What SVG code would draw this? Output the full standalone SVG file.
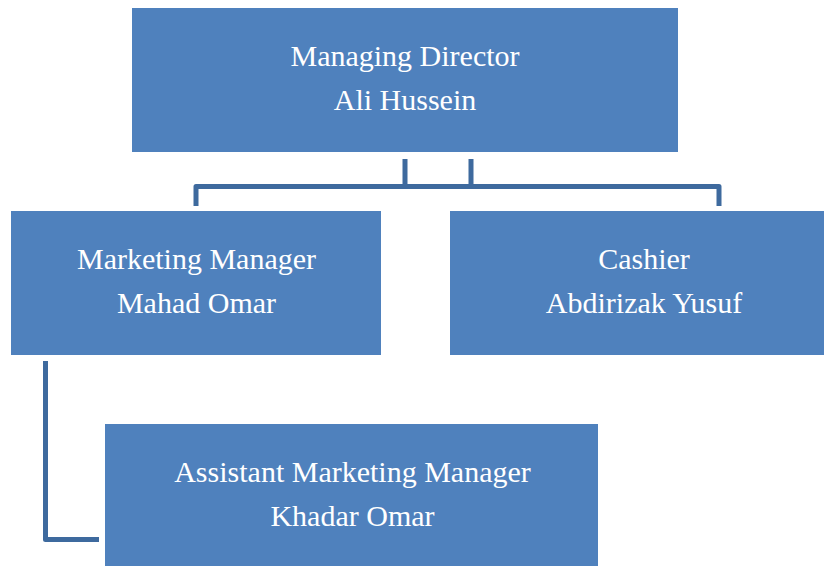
<svg xmlns="http://www.w3.org/2000/svg" width="824" height="566" viewBox="0 0 824 566">
<style>
.box{fill:#4F81BD;}
.t{font-family:"Liberation Serif","Times New Roman",serif;font-size:30px;fill:#FFFFFF;text-anchor:middle;}
.c{fill:none;stroke:#3E6A9E;stroke-width:5;stroke-linejoin:round;}
</style>
<rect width="824" height="566" fill="#FFFFFF"/>
<g id="connectors">
<path class="c" d="M405,159 V186.5 M471,159 V186.5 M196,206 V186.5 H719 V206"/>
<path class="c" d="M45.5,361 V539.5 H99"/>
</g>
<g id="managing-director">
<rect class="box" x="132" y="8" width="546" height="144"/>
<text class="t" x="405" y="66">Managing Director</text>
<text class="t" x="405" y="110">Ali Hussein</text>
</g>
<g id="marketing-manager">
<rect class="box" x="11" y="211" width="370" height="144"/>
<text class="t" x="196.5" y="269">Marketing Manager</text>
<text class="t" x="196.5" y="313">Mahad Omar</text>
</g>
<g id="cashier">
<rect class="box" x="450" y="211" width="374" height="144"/>
<text class="t" x="644" y="269">Cashier</text>
<text class="t" x="644" y="313">Abdirizak Yusuf</text>
</g>
<g id="assistant-marketing-manager">
<rect class="box" x="105" y="424" width="493" height="142"/>
<text class="t" x="352.5" y="482">Assistant Marketing Manager</text>
<text class="t" x="352.5" y="526">Khadar Omar</text>
</g>
</svg>
